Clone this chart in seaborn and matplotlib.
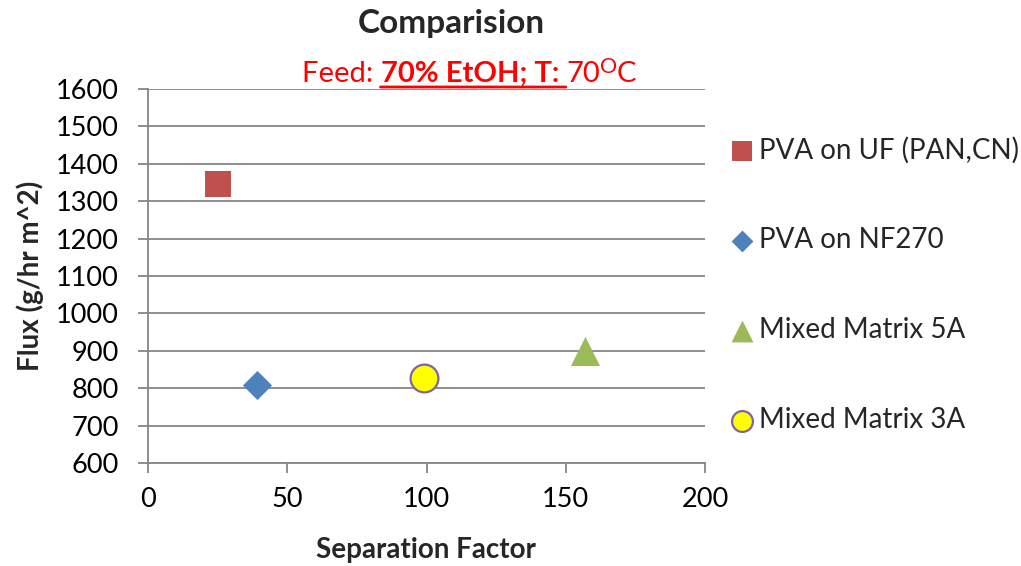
import matplotlib
matplotlib.use('Agg')
import matplotlib.pyplot as plt
import seaborn as sns
import pandas as pd

# ---- data ----
series = ["PVA on UF (PAN,CN)", "PVA on NF270", "Mixed Matrix 5A", "Mixed Matrix 3A"]
separation_factor = [25, 39, 157, 99]
flux = [1345, 808, 900, 826]
x_ticks = [0, 50, 100, 150, 200]
y_ticks = [600, 700, 800, 900, 1000, 1100, 1200, 1300, 1400, 1500, 1600]

# ---- styles ----
markers = ["s", "D", "^", "o"]
colors = ["#C0504D", "#4F81BD", "#9BBB59", "#FFFF00"]
edges = ["#C0504D", "#4F81BD", "#9BBB59", "#8064A2"]
edge_w = [0, 0, 0, 1.6]
sizes = [370, 220, 440, 400]
GRAY = "#868686"

sns.set_theme(style="white")
plt.rcParams['font.family'] = ['Lato', 'DejaVu Sans']

W, H = 1021, 566
fig = plt.figure(figsize=(W / 100, H / 100), dpi=100)
ax = fig.add_axes([148 / W, 1 - 463 / H, 557 / W, 374 / H])

df = pd.DataFrame(dict(series=series, x=separation_factor, y=flux))
for i, row in df.iterrows():
    sns.scatterplot(x=[row.x], y=[row.y], ax=ax, marker=markers[i], s=sizes[i],
                    color=colors[i], edgecolor=edges[i], linewidth=edge_w[i],
                    label=row.series, zorder=3, clip_on=False)

ax.set_xlim(x_ticks[0], x_ticks[-1])
ax.set_ylim(y_ticks[0], y_ticks[-1])
ax.set_xticks(x_ticks)
ax.set_yticks(y_ticks)
ax.set_xlabel("")
ax.set_ylabel("")
ax.grid(False)
ax.yaxis.grid(True, color=GRAY, linewidth=1.3)
ax.set_axisbelow(True)
for s in ["top", "right"]:
    ax.spines[s].set_visible(False)
for s in ["left", "bottom"]:
    ax.spines[s].set_color(GRAY)
    ax.spines[s].set_linewidth(1.3)
ax.tick_params(axis='both', direction='out', length=7, width=1.3, color=GRAY,
               labelsize=19.5, labelcolor='black')
ax.tick_params(axis='y', pad=14, left=True)
ax.tick_params(axis='x', pad=10, bottom=True)

leg = ax.legend(loc='center left', bbox_to_anchor=(728 / W, 1 - 285 / H),
                bbox_transform=fig.transFigure, frameon=False, fontsize=20,
                labelspacing=2.3, handlelength=1.0, handletextpad=0.1,
                markerscale=0.75, borderpad=0, borderaxespad=0)

# axis labels
fig.text(30 / W, 1 - 276 / H, "Flux (g/hr m^2)", rotation=90, ha='center', va='center',
         fontsize=20, fontweight='bold')
fig.text(426 / W, 1 - 550 / H, "Separation Factor", ha='center', va='center',
         fontsize=20, fontweight='bold')

# title
fig.text(451 / W, 1 - 24 / H, "Comparision", ha='center', va='center',
         fontsize=24, fontweight='bold')

# subtitle built from pieces
RED = "#FF0000"
t1 = fig.text(310 / W, 1 - 82 / H, "Feed: ", ha='left', va='baseline', color=RED, fontsize=21)
t2 = ax.annotate("70% EtOH; T: ", xy=(1, 0), xycoords=t1, ha='left', va='bottom',
                 color=RED, fontsize=21, fontweight='bold', annotation_clip=False)
ax.annotate("", xy=(1, 0), xycoords=t2, xytext=(0, 0), textcoords=t2,
            arrowprops=dict(arrowstyle='-', color=RED, lw=2, shrinkA=0, shrinkB=0),
            annotation_clip=False)
t3 = ax.annotate("70", xy=(1, 0), xycoords=t2, ha='left', va='bottom',
                 color=RED, fontsize=21, annotation_clip=False)
t4 = ax.annotate("O", xy=(1, 0), xycoords=t3, xytext=(0, 7), textcoords='offset points',
                 ha='left', va='bottom', color=RED, fontsize=15.5, annotation_clip=False)
t5 = ax.annotate("C", xy=(1, 0), xycoords=(t4, t3), ha='left', va='bottom',
                 color=RED, fontsize=21, annotation_clip=False)

fig.canvas.draw()
r = fig.canvas.get_renderer()
left = t1.get_window_extent(r).x0
right = t5.get_window_extent(r).x1
center_target = 469
shift = center_target - (left + right) / 2
x0, y0 = t1.get_position()
t1.set_position((x0 + shift / W, y0))

fig.savefig("out.png", dpi=100)
